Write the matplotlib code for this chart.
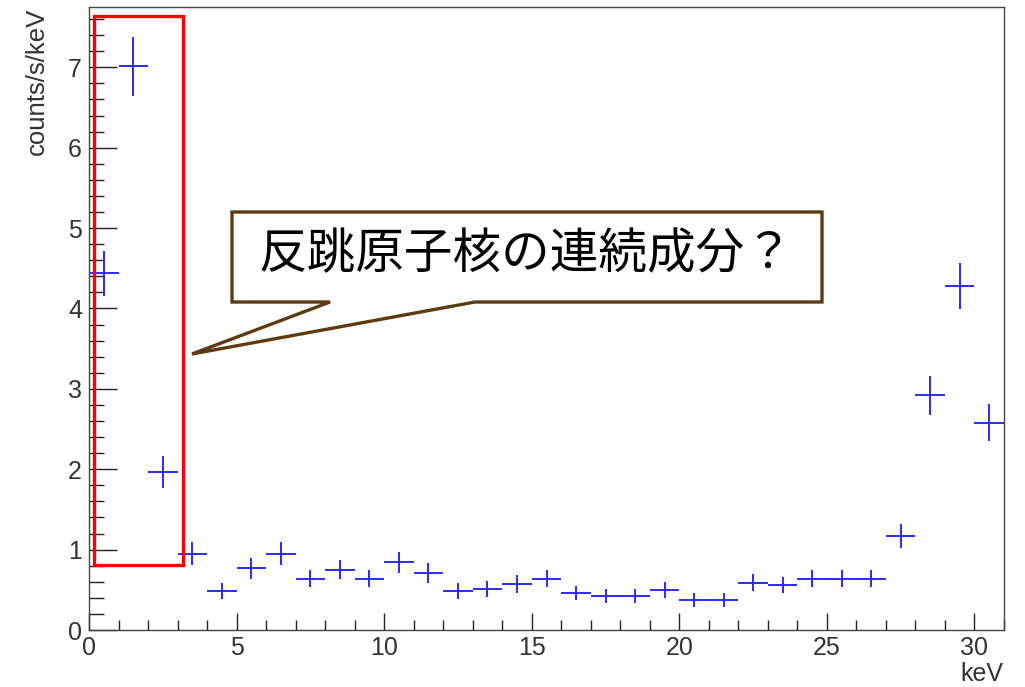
import matplotlib
matplotlib.use("Agg")
import matplotlib.pyplot as plt
from matplotlib.patches import Rectangle, Polygon
from matplotlib.ticker import MultipleLocator

# ---- data ----
energy_keV = [0.5, 1.5, 2.5, 3.5, 4.5, 5.5, 6.5, 7.5, 8.5, 9.5,
              10.5, 11.5, 12.5, 13.5, 14.5, 15.5, 16.5, 17.5, 18.5, 19.5,
              20.5, 21.5, 22.5, 23.5, 24.5, 25.5, 26.5, 27.5, 28.5, 29.5, 30.5]
rate = [4.44, 7.01, 1.97, 0.95, 0.49, 0.77, 0.95, 0.64, 0.75, 0.64,
        0.84, 0.71, 0.48, 0.51, 0.57, 0.64, 0.46, 0.42, 0.42, 0.50,
        0.37, 0.37, 0.59, 0.56, 0.64, 0.64, 0.64, 1.17, 2.92, 4.28, 2.58]
rate_err = [0.28, 0.37, 0.20, 0.14, 0.10, 0.13, 0.14, 0.11, 0.12, 0.11,
            0.13, 0.12, 0.10, 0.10, 0.11, 0.11, 0.09, 0.09, 0.09, 0.10,
            0.09, 0.09, 0.11, 0.10, 0.11, 0.11, 0.11, 0.15, 0.24, 0.29, 0.23]
bin_halfwidth = 0.5
x_label = "keV"
y_label = "counts/s/keV"
callout_text = "反跳原子核の連続成分？"

W, H = 1025, 687
fig = plt.figure(figsize=(W / 100, H / 100), dpi=100)
ax = fig.add_axes([89 / W, 1 - 630 / H, (1004 - 89) / W, (630 - 7) / H])

ax.errorbar(energy_keV, rate, xerr=bin_halfwidth, yerr=rate_err, fmt='none',
            ecolor='#2a2aff', elinewidth=1.4, capsize=0, zorder=3)

ax.set_xlim(0, 31)
ax.set_ylim(0, 7.75)
ax.xaxis.set_major_locator(MultipleLocator(5))
ax.xaxis.set_minor_locator(MultipleLocator(1))
ax.yaxis.set_major_locator(MultipleLocator(1))
ax.yaxis.set_minor_locator(MultipleLocator(0.2))

for s in ax.spines.values():
    s.set_color('#444444')
    s.set_linewidth(1.0)

ax.tick_params(axis='x', which='major', direction='in', length=12, width=1,
               color='#222222', labelsize=18, pad=4, top=False)
ax.tick_params(axis='x', which='minor', direction='in', length=7, width=1,
               color='#222222', top=False)
ax.tick_params(axis='y', which='major', direction='in', length=20, width=1,
               color='#222222', labelsize=18, pad=5, right=False)
ax.tick_params(axis='y', which='minor', direction='in', length=11, width=1,
               color='#222222', right=False)
for lab in ax.get_xticklabels() + ax.get_yticklabels():
    lab.set_family(['Liberation Sans', 'DejaVu Sans'])
    lab.set_color('#333333')

fig.text(37 / W, 1 - 8 / H, y_label, rotation=90, ha='center', va='top',
         fontsize=18.5, family=['Liberation Sans', 'DejaVu Sans'], color='#333333')
fig.text(1003 / W, 1 - 686 / H, x_label, ha='right', va='bottom',
         fontsize=18, family=['Liberation Sans', 'DejaVu Sans'], color='#333333')

# red highlight box (data coords)
ax.add_patch(Rectangle((0.17, 0.81), 3.02, 6.83, fill=False, edgecolor='red',
                       linewidth=2.4, zorder=4, clip_on=False))

# callout box (pixel positions -> figure fraction)
pts = [(232, 212), (822, 212), (822, 302), (475, 302), (192, 354),
       (330, 302), (232, 302)]
poly = Polygon([(x / W, 1 - y / H) for x, y in pts], closed=True,
               facecolor='white', edgecolor='#5e3a10', linewidth=2.4,
               transform=fig.transFigure, zorder=5)
fig.patches.append(poly)
fig.text(526 / W, 1 - 254 / H, callout_text, ha='center', va='center',
         fontsize=35, family=['Noto Sans CJK JP', 'DejaVu Sans'], color='black',
         zorder=6)

fig.savefig("out.png", dpi=100)
